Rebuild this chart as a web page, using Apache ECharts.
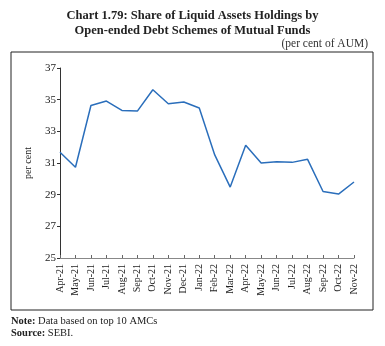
<!DOCTYPE html>
<html><head><meta charset="utf-8">
<script src="https://cdn.jsdelivr.net/npm/echarts@6/dist/echarts.min.js"></script>
<style>html,body{margin:0;padding:0;background:#fff}#c{width:385px;height:346px}</style>
</head><body><div id="c"></div>
<script>
var categories = ['Apr-21','May-21','Jun-21','Jul-21','Aug-21','Sep-21','Oct-21','Nov-21','Dec-21','Jan-22','Feb-22','Mar-22','Apr-22','May-22','Jun-22','Jul-22','Aug-22','Sep-22','Oct-22','Nov-22'];
var shareValues = [31.68,30.73,34.63,34.91,34.32,34.28,35.63,34.74,34.85,34.47,31.51,29.48,32.12,31.0,31.08,31.04,31.23,29.2,29.04,29.8];
var yTicks = {min:25, max:37, interval:2};

var chart = echarts.init(document.getElementById('c'), null, {renderer:'canvas'});
var serif = '"Liberation Serif","DejaVu Serif",serif';
var rich = {b:{fontWeight:'bold',fontFamily:serif,fontSize:10.5,fill:'#222'},n:{fontFamily:serif,fontSize:10.5,fill:'#222'}};
chart.setOption({
  animation:false,
  grid:{left:60, top:68, right:31, bottom:88},
  title:[
    {text:'Chart 1.79: Share of Liquid Assets Holdings by\nOpen-ended Debt Schemes of Mutual Funds', left:'center', top:3,
     textStyle:{fontFamily:serif, fontWeight:'bold', fontSize:12.5, lineHeight:15, color:'#222'}},
    {text:'(per cent of AUM)', right:12, top:33, textStyle:{fontFamily:serif, fontWeight:'normal', fontSize:11.5, color:'#333'}}
  ],
  graphic:[
    {type:'rect', shape:{x:11, y:52, width:362, height:258}, style:{fill:'none', stroke:'#222', lineWidth:1}, silent:true},
    {type:'text', left:11, top:316, style:{rich:rich, text:'{b|Note:}{n| Data based on top 10 AMCs}'}},
    {type:'text', left:11, top:328, style:{rich:rich, text:'{b|Source:}{n| SEBI.}'}}
  ],
  xAxis:{type:'category', data:categories, boundaryGap:false,
    axisLine:{lineStyle:{color:'#888', width:1}},
    axisTick:{inside:true, length:3, lineStyle:{color:'#666'}},
    axisLabel:{rotate:90, interval:0, fontFamily:serif, fontSize:10, color:'#222', margin:6}},
  yAxis:{type:'value', min:yTicks.min, max:yTicks.max, interval:yTicks.interval,
    name:'per cent', nameLocation:'middle', nameGap:27, nameTextStyle:{fontFamily:serif, fontSize:10, color:'#222'},
    axisLine:{show:true, lineStyle:{color:'#333', width:1}},
    axisTick:{show:true, length:3, lineStyle:{color:'#333'}},
    splitLine:{show:false},
    axisLabel:{fontFamily:serif, fontSize:11, color:'#222', margin:4}},
  series:[{type:'line', data:shareValues, symbol:'none', lineStyle:{color:'#2a6ebb', width:1.5}}]
});
</script></body></html>
